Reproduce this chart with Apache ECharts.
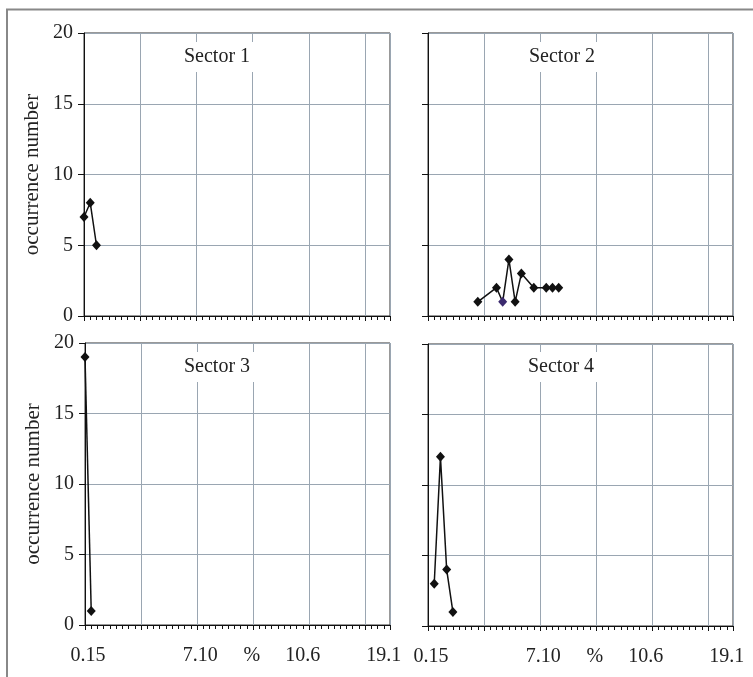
<!DOCTYPE html>
<html>
<head>
<meta charset="utf-8">
<script src="https://cdn.jsdelivr.net/npm/echarts@6/dist/echarts.min.js"></script>
<style>
html,body{margin:0;padding:0;background:#fff;}
#c{width:753px;height:677px;}
</style>
</head>
<body>
<div id="c"></div>
<script>
// ---- data ----
var sectorNames = ['Sector 1', 'Sector 2', 'Sector 3', 'Sector 4'];
var sector1X = [0, 1, 2];
var sector1Y = [7, 8, 5];
var sector2X = [8, 11, 12, 13, 14, 15, 17, 19, 20, 21];
var sector2Y = [1, 2, 1, 4, 1, 3, 2, 2, 2, 2];
var sector3X = [0, 1];
var sector3Y = [19, 1];
var sector4X = [1, 2, 3, 4];
var sector4Y = [3, 12, 4, 1];
var xTickLabels = ['0.15', '7.10', '%', '10.6', '19.1'];
var xTickLabelPos = [0.5, 18.5, 26.8, 35, 48];
var yTickValues = [0, 5, 10, 15, 20];
var yAxisTitle = 'occurrence number';

var xs = [sector1X, sector2X, sector3X, sector4X];
var ys = [sector1Y, sector2Y, sector3Y, sector4Y];

var FONT = 'Liberation Serif, Times New Roman, serif';
var grids = [
  {left: 84, top: 33, width: 306, height: 283},
  {left: 428, top: 33, width: 305, height: 283},
  {left: 85, top: 343, width: 305, height: 282},
  {left: 428, top: 344, width: 305, height: 282}
];
var titlePos = [[217, 57], [562, 57], [217, 367], [561, 367]];
var gridColor = '#9aa6b2';

var xAxes = [], yAxes = [], series = [], graphics = [];
grids.forEach(function (g, i) {
  var bottomRow = i >= 2;
  var leftCol = (i % 2) === 0;
  xAxes.push({
    gridIndex: i, type: 'value', position: 'bottom', min: 0, max: 49, interval: 9,
    axisLine: {show: true, onZero: false, lineStyle: {color: '#111', width: 1}},
    axisTick: {show: true, length: 5, lineStyle: {color: '#111'}},
    splitLine: {show: true, lineStyle: {color: gridColor, width: 1}},
    axisLabel: {
      show: bottomRow, customValues: xTickLabelPos, margin: 21,
      fontFamily: FONT, fontSize: 20, color: '#222',
      formatter: function (v) {
        for (var k = 0; k < xTickLabelPos.length; k++) {
          if (Math.abs(xTickLabelPos[k] - v) < 1e-6) return xTickLabels[k];
        }
        return '';
      }
    }
  });
  xAxes.push({
    gridIndex: i, type: 'value', position: 'bottom', min: 0, max: 49, interval: 1,
    axisLine: {show: false, onZero: false},
    axisTick: {show: true, length: 4, lineStyle: {color: '#111'}},
    splitLine: {show: false},
    axisLabel: {show: false}
  });
  yAxes.push({
    gridIndex: i, type: 'value', min: 0, max: 20, interval: 5,
    name: leftCol ? yAxisTitle : '', nameLocation: 'middle', nameGap: 41,
    nameTextStyle: {fontFamily: FONT, fontSize: 21, color: '#222'},
    axisLine: {show: true, onZero: false, lineStyle: {color: '#111', width: 1}},
    axisTick: {show: true, length: 6, lineStyle: {color: '#111'}},
    splitLine: {show: true, lineStyle: {color: gridColor, width: 1}},
    axisLabel: {show: leftCol, margin: 11, fontFamily: FONT, fontSize: 20, color: '#222'}
  });
  var d = xs[i].map(function (x, k) {
    var item = {value: [x, ys[i][k]]};
    if (i === 1 && k === 2) item.itemStyle = {color: '#3b2a6e'};
    return item;
  });
  series.push({
    type: 'line', xAxisIndex: 2 * i, yAxisIndex: i, data: d,
    symbol: 'diamond', symbolSize: [9, 10], showSymbol: true,
    lineStyle: {color: '#111', width: 1.5},
    itemStyle: {color: '#111'},
    z: 5
  });
  graphics.push({
    type: 'text', x: titlePos[i][0], y: titlePos[i][1], z: 20,
    style: {
      text: sectorNames[i], fontFamily: FONT, fontSize: 20, fill: '#222',
      align: 'center', verticalAlign: 'middle',
      backgroundColor: '#fff', padding: [5, 9]
    }
  });
});
graphics.push({
  type: 'polyline', z: 30,
  shape: {points: [[7, 677], [7, 9.5], [753, 9.5]]},
  style: {stroke: '#888', lineWidth: 2, fill: null}
});

var chart = echarts.init(document.getElementById('c'), null, {renderer: 'canvas'});
chart.setOption({
  animation: false,
  backgroundColor: '#fff',
  grid: grids.map(function (g) {
    return {left: g.left, top: g.top, width: g.width, height: g.height,
      show: true, borderColor: '#333', borderWidth: 1, backgroundColor: 'transparent', containLabel: false};
  }),
  xAxis: xAxes,
  yAxis: yAxes,
  series: series,
  graphic: graphics
});
</script>
</body>
</html>
